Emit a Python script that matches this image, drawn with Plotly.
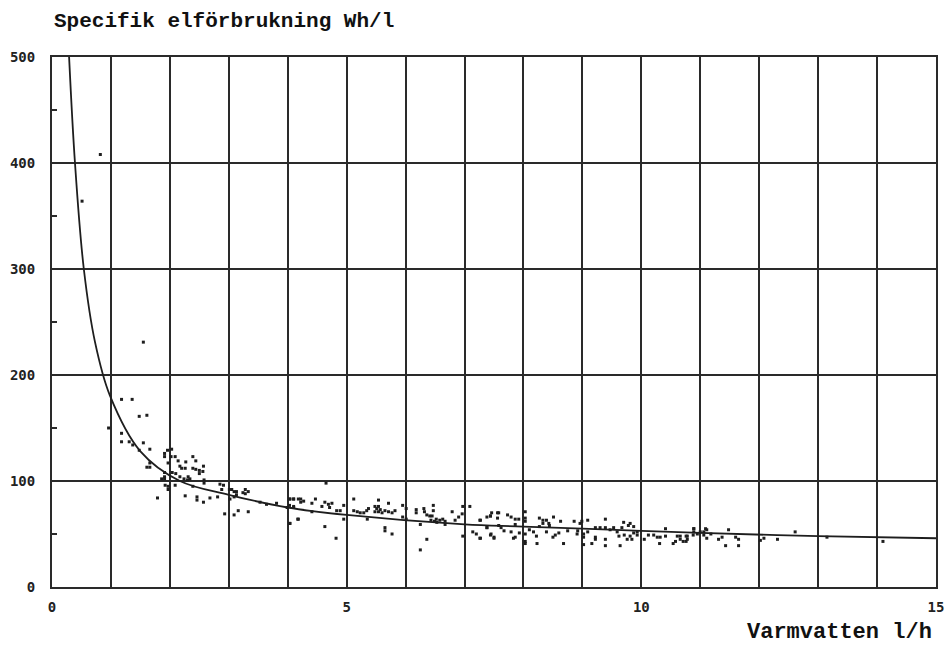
import plotly.graph_objects as go

# Fitted curve
curve_x = [0.29, 0.39, 0.54, 0.73, 0.98, 1.5, 2.17, 3, 4, 5, 7, 8, 10, 11, 13, 15]
curve_y = [500, 400, 300, 231, 181, 128, 100, 87, 75, 68, 59, 57, 53, 51, 48, 46]

pts_x = [
    0.51, 0.82, 1.55,
    1.18, 1.36, 1.48, 1.61, 0.96, 1.18, 1.18, 1.31, 1.37, 1.55, 1.48, 1.66,
    1.61, 1.66, 1.66, 1.79, 1.86, 1.91, 1.91, 1.91, 1.91, 1.91, 1.96, 1.97,
    2.02, 2.03, 2.04, 2.09, 2.14, 2.17, 2.2, 2.26, 2.27, 2.1, 2.17, 2.24,
    1.92, 1.97, 1.97, 2.09, 2.3, 2.34, 2.31, 2.26, 2.39, 2.44, 2.39, 2.44,
    2.5, 2.5, 2.56, 2.57, 2.39, 2.58, 2.58, 2.46, 2.46, 2.57, 2.68, 2.81,
    2.85, 2.91, 2.88, 3.01, 3.05, 3.09, 3.13, 3.24, 3.28, 3.28, 3.33, 3.02,
    3.09, 3.13, 2.93, 3.09, 3.16, 3.33, 3.53, 3.64, 3.81, 3.99, 4.1, 4.04,
    4.1, 4.18, 4.04, 4.18,
    4.03, 4.1, 4.03, 4.1, 4.03, 4.17, 4.22, 4.27, 4.22, 4.41, 4.47, 4.41,
    4.58, 4.63, 4.69, 4.75, 4.71, 4.65, 4.63, 4.82, 4.83, 4.89, 4.95, 4.95,
    5.12, 5.12, 5.18, 5.23, 5.29, 5.34, 5.37, 5.35, 5.48, 5.51, 5.54, 5.57,
    5.48, 5.54, 5.6, 5.65, 5.71, 5.77, 5.82, 5.54, 5.71, 5.65, 5.65, 5.77,
    5.95, 6.01, 5.95, 6.01, 6.18, 6.18, 6.25, 6.25, 6.31, 6.32, 6.36, 6.41,
    6.45, 6.47, 6.47, 6.36, 6.43, 6.49, 6.52, 6.58, 6.63, 6.67, 6.67, 6.53,
    6.79, 6.84, 6.9, 6.96, 6.97, 6.97, 7.09, 7.14, 7.2, 7.26, 7.26, 7.38,
    7.44, 7.45, 7.5, 7.58, 7.58,
    7.27, 7.27, 7.38, 7.44, 7.46, 7.38, 7.44, 7.5, 7.56, 7.56, 7.62, 7.67,
    7.73, 7.79, 7.86, 7.92, 7.79, 7.83, 7.86, 7.93, 7.86, 8.03, 8.03, 8.03,
    8.03, 8.03, 8.03, 8.1, 8.17, 8.22, 8.27, 8.27, 8.33, 8.33, 8.39, 8.43,
    8.51, 8.23, 8.39, 8.44, 8.5, 8.54, 8.6, 8.63, 8.68, 8.75, 8.86, 8.92,
    8.96, 8.99, 8.91, 9.02, 9.02, 9.02, 9.09, 9.09, 9.16, 9.22, 9.22, 9.22,
    9.3, 9.39, 9.39, 9.39, 9.39, 9.47, 9.53, 9.59, 9.62, 9.67, 9.64, 9.7,
    9.78, 9.81, 9.87, 9.93, 9.71, 9.81, 9.87, 9.76, 9.84, 9.93, 10.05, 10.12,
    10.21, 10.27, 10.32, 10.31, 10.41, 10.41, 10.54, 10.58, 10.61, 10.66, 10.71, 10.78,
    10.78, 10.89,
    10.66, 10.76, 10.76, 10.88, 10.89, 10.89, 10.95, 11.0, 11.06, 11.06, 11.11, 11.11,
    11.18, 11.09, 11.31, 11.37, 11.43, 11.48, 11.6, 11.65, 11.65, 12.02, 12.08, 12.31,
    12.61, 13.15, 14.1,
]
pts_y = [
    364, 408, 231,
    177, 177, 161, 162, 150, 145, 137, 137, 134, 136, 129, 130,
    113, 113, 117, 84, 102, 102, 108, 104, 126, 123, 129, 117,
    123, 130, 108, 123, 119, 114, 112, 112, 118, 107, 104, 102,
    96, 95, 92, 96, 101, 102, 104, 86, 123, 119, 112, 111,
    110, 107, 109, 114, 95, 101, 98, 85, 82, 80, 84, 85,
    97, 96, 92, 92, 92, 90, 90, 89, 92, 88, 90, 83,
    85, 87, 69, 68, 72, 71, 80, 78, 79, 75, 75, 83,
    83, 83, 60, 64,
    83, 83, 77, 76, 60, 64, 83, 81, 80, 79, 83, 71,
    76, 80, 78, 79, 75, 98, 57, 46, 72, 72, 77, 64,
    83, 72, 71, 70, 70, 72, 74, 64, 76, 74, 71, 73,
    71, 76, 70, 72, 71, 70, 72, 82, 79, 56, 53, 50,
    77, 74, 66, 64, 73, 70, 59, 35, 74, 71, 68, 67,
    67, 72, 77, 45, 63, 62, 64, 63, 64, 62, 59, 61,
    71, 63, 66, 69, 76, 48, 76, 52, 50, 46, 63, 56,
    67, 50, 47, 70, 58,
    63, 46, 66, 67, 70, 56, 49, 46, 70, 65, 56, 53,
    68, 66, 64, 64, 52, 46, 47, 51, 59, 71, 65, 62,
    50, 43, 41, 54, 52, 48, 57, 65, 63, 60, 63, 60,
    66, 41, 52, 58, 47, 49, 51, 62, 41, 53, 62, 53,
    60, 62, 50, 50, 47, 40, 63, 52, 41, 56, 47, 45,
    56, 56, 64, 45, 39, 54, 56, 52, 48, 56, 39, 61,
    58, 60, 57, 52, 49, 48, 51, 45, 45, 49, 45, 49,
    49, 47, 47, 41, 55, 48, 41, 43, 48, 45, 43, 45,
    48, 55,
    48, 48, 43, 49, 55, 52, 50, 52, 52, 49, 54, 46,
    50, 55, 45, 47, 39, 54, 47, 45, 39, 44, 46, 45,
    52, 47, 43,
]

x_tick_vals = list(range(0, 16))
x_tick_text = ["0", "", "", "", "", "5", "", "", "", "", "10", "", "", "", "", "15"]
y_tick_vals = [0, 100, 200, 300, 400, 500]
y_tick_text = ["0", "100", "200", "300", "400", "500"]
y_minor_vals = [50, 150, 250, 350, 450]

title_text = "Specifik elförbrukning Wh/l"
x_title_text = "Varmvatten l/h"

ink = "#2a2a2a"

fig = go.Figure()
fig.add_trace(go.Scatter(
    x=pts_x, y=pts_y, mode="markers",
    marker=dict(symbol="square", size=3, color="#1e1e1e", line=dict(width=0)),
    showlegend=False, hoverinfo="x+y",
))
fig.add_trace(go.Scatter(
    x=curve_x, y=curve_y, mode="lines",
    line=dict(color="#1e1e1e", width=1.8, shape="spline", smoothing=1.0),
    showlegend=False,
))

tick_font = dict(family="DejaVu Sans Mono", size=14, color="#222", weight="bold")

fig.update_layout(
    width=947, height=647,
    margin=dict(l=52, r=11, t=57, b=60, autoexpand=False),
    paper_bgcolor="white", plot_bgcolor="white",
    xaxis=dict(
        range=[0, 15], tickvals=x_tick_vals, ticktext=x_tick_text,
        showgrid=True, gridcolor=ink, gridwidth=1.8,
        showline=True, linecolor=ink, linewidth=2, mirror=True,
        ticks="", tickfont=tick_font, ticklabelstandoff=6, zeroline=False,
        automargin=False,
    ),
    yaxis=dict(
        range=[0, 500], tickvals=y_tick_vals, ticktext=y_tick_text,
        showgrid=True, gridcolor=ink, gridwidth=1.8,
        showline=True, linecolor=ink, linewidth=2, mirror=True,
        ticks="", tickfont=tick_font, ticklabelstandoff=12, zeroline=False,
        automargin=False,
        minor=dict(tickvals=y_minor_vals, ticks="inside", ticklen=5,
                   tickcolor=ink, tickwidth=1.5, showgrid=False),
    ),
    annotations=[
        dict(text=title_text, xref="paper", yref="paper", x=0, y=1 + 35 / 530,
             xanchor="left", yanchor="middle", showarrow=False,
             font=dict(family="Liberation Mono", size=21, color="#111", weight="bold")),
        dict(text=x_title_text, xref="paper", yref="paper", x=1, y=-45 / 530,
             xanchor="right", yanchor="middle", showarrow=False, xshift=-2,
             font=dict(family="Liberation Mono", size=22, color="#111", weight="bold")),
    ],
)

fig.write_html("out.html")
